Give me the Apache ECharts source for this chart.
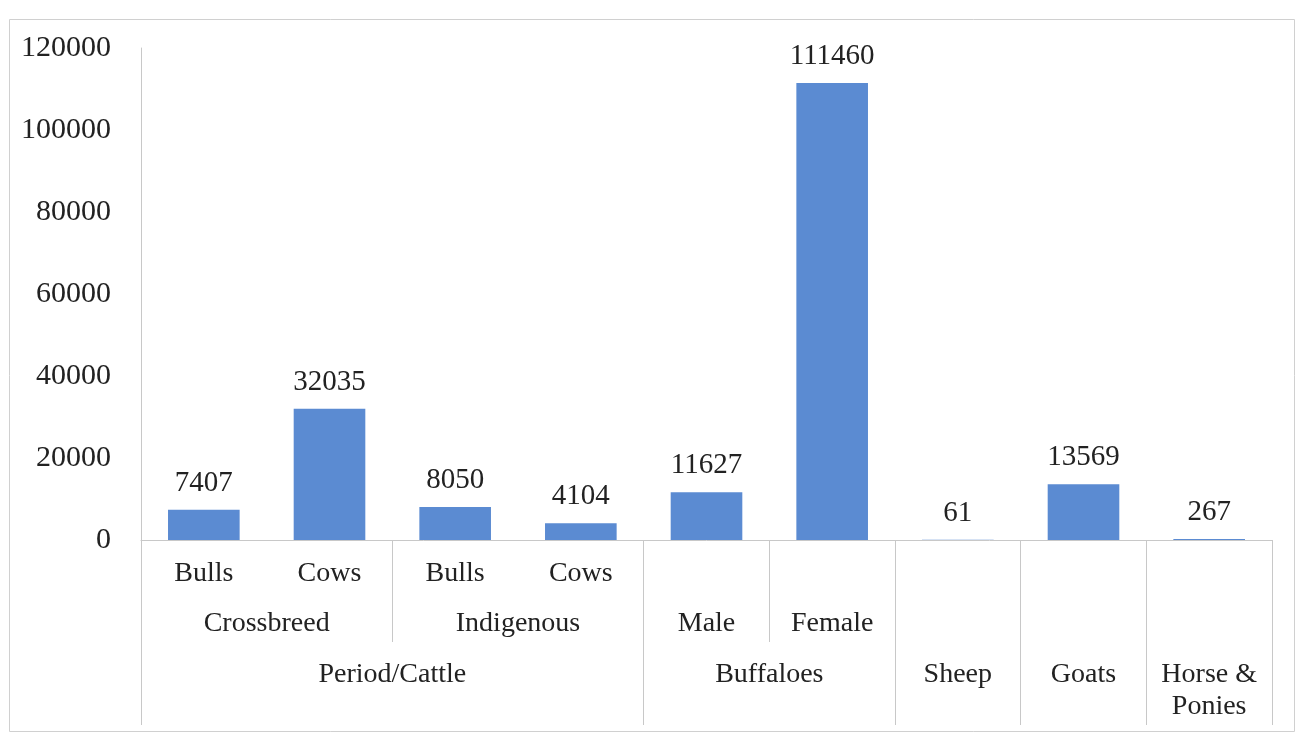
<!DOCTYPE html>
<html>
<head>
<meta charset="utf-8">
<script src="https://cdn.jsdelivr.net/npm/echarts@6/dist/echarts.min.js"></script>
<style>html,body{margin:0;padding:0;background:#fff}#c{width:1296px;height:737px}</style>
</head>
<body>
<div id="c"></div>
<script>
const categories = ['Crossbreed Bulls','Crossbreed Cows','Indigenous Bulls','Indigenous Cows','Buffaloes Male','Buffaloes Female','Sheep','Goats','Horse & Ponies'];
const values = [7407, 32035, 8050, 4104, 11627, 111460, 61, 13569, 267];
const level1 = ['Bulls','Cows','Bulls','Cows','','','','',''];
const level2 = ['Crossbreed','Crossbreed','Indigenous','Indigenous','Male','Female','','',''];
const level3 = ['Period/Cattle','Period/Cattle','Period/Cattle','Period/Cattle','Buffaloes','Buffaloes','Sheep','Goats','Horse &\nPonies'];
const yTicks = [0, 20000, 40000, 60000, 80000, 100000, 120000];

const FONT = '"Liberation Serif", "DejaVu Serif", serif';
const TXT = '#222222';
const LINE = '#c8c8c8';

function groups(arr) {
  const g = [];
  let i = 0;
  while (i < arr.length) {
    let j = i;
    while (j + 1 < arr.length && arr[j + 1] === arr[i]) j++;
    g.push({ name: arr[i], start: i, end: j + 1 });
    i = j + 1;
  }
  return g;
}
const g1 = groups(level1).filter(g => g.name !== '');
const g2 = groups(level2).filter(g => g.name !== '');
const g3 = groups(level3).filter(g => g.name !== '');

function labelRow(gs) {
  const map = {};
  gs.forEach(g => { map[((g.start + g.end) / 2).toFixed(2)] = g.name; });
  return map;
}
const row1 = labelRow(g1), row2 = labelRow(g2), row3 = labelRow(g3);

const fullBounds = [];
g3.forEach(g => { fullBounds.push(g.start, g.end); });
const fullSet = Array.from(new Set(fullBounds)).sort((a, b) => a - b);
const shortSet = Array.from(new Set(g2.flatMap(g => [g.start, g.end]))).filter(v => fullSet.indexOf(v) < 0).sort((a, b) => a - b);

function rowAxis(map, margin) {
  return {
    type: 'value', gridIndex: 0, position: 'bottom', min: 0, max: categories.length,
    axisLine: { show: false }, axisTick: { show: false }, splitLine: { show: false },
    axisLabel: {
      show: true, margin: margin, customValues: Object.keys(map).map(Number),
      formatter: v => map[Number(v).toFixed(2)] || '',
      fontFamily: FONT, fontSize: 28, color: TXT, lineHeight: 32, verticalAlign: 'top', align: 'center'
    }
  };
}
function tickAxis(vals, len) {
  return {
    type: 'value', gridIndex: 0, position: 'bottom', min: 0, max: categories.length,
    axisLine: { show: false }, splitLine: { show: false }, axisLabel: { show: false },
    axisTick: { show: true, customValues: vals, length: len, lineStyle: { color: LINE, width: 1 } }
  };
}

const chart = echarts.init(document.getElementById('c'), null, { renderer: 'canvas' });
chart.setOption({
  backgroundColor: '#fff',
  animation: false,
  graphic: [{
    type: 'rect', left: 7, top: 17, shape: { width: 1285, height: 712 },
    style: { fill: 'none', stroke: '#d0d0d0', lineWidth: 1 }, silent: true, z: -1
  }],
  grid: { left: 141, right: 24, top: 48, bottom: 197, containLabel: false },
  xAxis: [
    {
      type: 'category', data: categories, gridIndex: 0, position: 'bottom',
      axisLine: { show: true, lineStyle: { color: LINE, width: 1 } },
      axisTick: { show: false }, axisLabel: { show: false }, splitLine: { show: false }
    },
    tickAxis(fullSet, 185),
    tickAxis(shortSet, 102),
    rowAxis(row1, 18),
    rowAxis(row2, 68),
    rowAxis(row3, 119)
  ],
  yAxis: {
    type: 'value', min: yTicks[0], max: yTicks[yTicks.length - 1], interval: 20000,
    axisLine: { show: true, lineStyle: { color: LINE, width: 1 } },
    axisTick: { show: false }, splitLine: { show: false },
    axisLabel: { margin: 30, fontFamily: FONT, fontSize: 30, color: TXT, formatter: v => String(v) }
  },
  series: [{
    type: 'bar', xAxisIndex: 0, yAxisIndex: 0, data: values, barWidth: '57%',
    itemStyle: { color: '#5b8bd2' },
    label: { show: true, position: 'top', distance: 12, fontFamily: FONT, fontSize: 29, color: TXT }
  }]
});
</script>
</body>
</html>
